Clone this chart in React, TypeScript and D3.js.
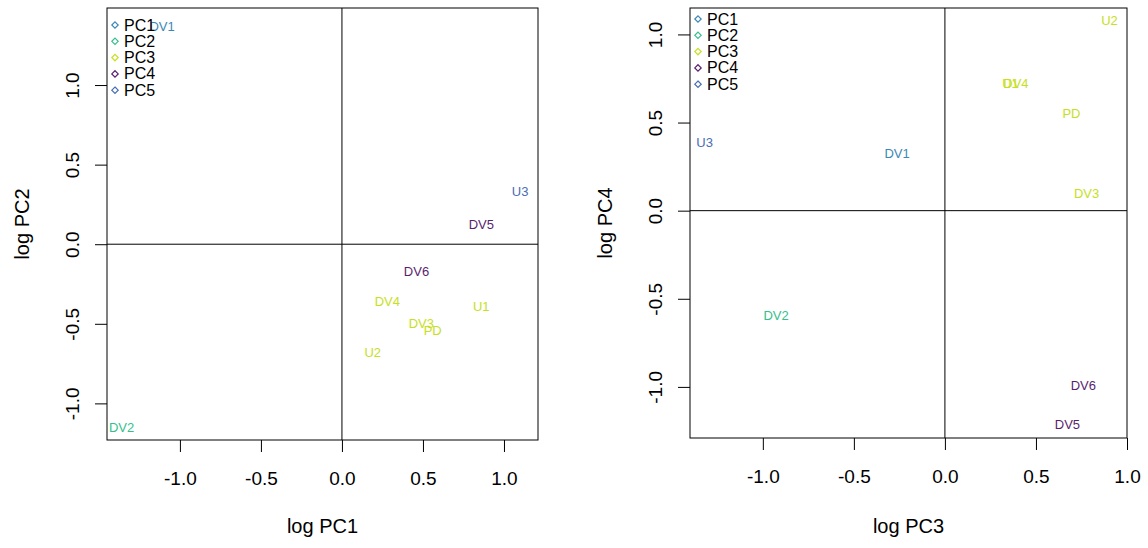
import { useEffect, useRef } from 'react';
import * as d3 from 'd3';

// sample labels and their group (legend key)
const sampleNames = ['DV1', 'DV2', 'DV3', 'DV4', 'DV5', 'DV6', 'PD', 'U1', 'U2', 'U3'];
const sampleGroups = ['PC1', 'PC2', 'PC3', 'PC3', 'PC4', 'PC4', 'PC3', 'PC3', 'PC3', 'PC5'];

// log scores
const logPC1 = [-1.11, -1.36, 0.49, 0.28, 0.86, 0.46, 0.56, 0.86, 0.19, 1.1];
const logPC2 = [1.365, -1.15, -0.5, -0.36, 0.126, -0.17, -0.54, -0.394, -0.68, 0.333];
const logPC3 = [-0.263, -0.927, 0.778, 0.39, 0.673, 0.76, 0.695, 0.36, 0.904, -1.32];
const logPC4 = [0.323, -0.595, 0.096, 0.72, -1.216, -0.99, 0.55, 0.72, 1.08, 0.385];

const legendKeys = ['PC1', 'PC2', 'PC3', 'PC4', 'PC5'];
const legendColors = ['#3b88b5', '#35bf8c', '#c6e01e', '#5a1f6e', '#4a6db3'];
const tickValues = [-1.0, -0.5, 0.0, 0.5, 1.0];

const font = 'Liberation Sans, Arial, sans-serif';
const fmt = (d: number) => d.toFixed(1);

type Panel = {
  xs: number[];
  ys: number[];
  xLabel: string;
  yLabel: string;
  xDomain: [number, number];
  yDomain: [number, number];
  left: number;
  right: number;
  top: number;
  bottom: number;
  legendTop: number;
};

function App() {
  const ref = useRef(null);
  const svgWidth = 1148;
  const svgHeight = 548;

  useEffect(() => {
    const svg = d3.select(ref.current);
    svg.selectAll('*').remove();

    const color = d3.scaleOrdinal<string, string>().domain(legendKeys).range(legendColors);

    const panels: Panel[] = [
      {
        xs: logPC1, ys: logPC2, xLabel: 'log PC1', yLabel: 'log PC2',
        xDomain: [-1.45, 1.21], yDomain: [-1.23, 1.484],
        left: 107, right: 538, top: 8, bottom: 440, legendTop: 25,
      },
      {
        xs: logPC3, ys: logPC4, xLabel: 'log PC3', yLabel: 'log PC4',
        xDomain: [-1.4, 1.0], yDomain: [-1.29, 1.15],
        left: 690, right: 1127, top: 8, bottom: 438, legendTop: 19,
      },
    ];

    panels.forEach((p) => {
      const x = d3.scaleLinear().domain(p.xDomain).range([p.left, p.right]);
      const y = d3.scaleLinear().domain(p.yDomain).range([p.bottom, p.top]);
      const g = svg.append('g').attr('font-family', font);

      // x axis
      const xAxis = g
        .append('g')
        .attr('transform', `translate(0, ${p.bottom})`)
        .call(d3.axisBottom(x).tickValues(tickValues).tickSize(12).tickSizeOuter(0).tickPadding(20).tickFormat((d) => fmt(d as number)));
      xAxis.select('.domain').remove();
      xAxis.selectAll('line').attr('stroke', '#000');
      xAxis.selectAll('text').attr('font-size', 19).attr('fill', '#000').attr('font-family', font);

      // y axis
      const yAxis = g
        .append('g')
        .attr('transform', `translate(${p.left}, 0)`)
        .call(d3.axisLeft(y).tickValues(tickValues).tickSize(12).tickSizeOuter(0).tickFormat((d) => fmt(d as number)));
      yAxis.select('.domain').remove();
      yAxis.selectAll('line').attr('stroke', '#000');
      yAxis
        .selectAll('text')
        .attr('font-size', 19)
        .attr('fill', '#000')
        .attr('font-family', font)
        .attr('text-anchor', 'middle')
        .attr('x', null)
        .attr('dy', null)
        .attr('dominant-baseline', 'central')
        .attr('transform', 'translate(-35, 0) rotate(-90)');

      // axis titles
      g.append('text')
        .attr('x', (p.left + p.right) / 2)
        .attr('y', 533)
        .attr('text-anchor', 'middle')
        .attr('font-size', 20)
        .text(p.xLabel);
      g.append('text')
        .attr('transform', `translate(${p.left - 85}, ${(p.top + p.bottom) / 2}) rotate(-90)`)
        .attr('text-anchor', 'middle')
        .attr('dominant-baseline', 'central')
        .attr('font-size', 20)
        .text(p.yLabel);

      // reference lines at zero
      g.append('line')
        .attr('x1', x(0)).attr('x2', x(0))
        .attr('y1', p.top).attr('y2', p.bottom)
        .attr('stroke', '#000');
      g.append('line')
        .attr('x1', p.left).attr('x2', p.right)
        .attr('y1', y(0)).attr('y2', y(0))
        .attr('stroke', '#000');

      // labels at points
      g.append('g')
        .selectAll('text')
        .data(sampleNames)
        .join('text')
        .attr('x', (_, i) => x(p.xs[i]))
        .attr('y', (_, i) => y(p.ys[i]))
        .attr('text-anchor', 'middle')
        .attr('dominant-baseline', 'central')
        .attr('font-size', 13)
        .attr('fill', (_, i) => color(sampleGroups[i]))
        .text((d) => d);

      // legend
      const legend = g.append('g').attr('transform', `translate(${p.left + 8}, ${p.legendTop})`);
      const rows = legend
        .selectAll('g')
        .data(legendKeys)
        .join('g')
        .attr('transform', (_, i) => `translate(0, ${i * 16.3})`);
      rows
        .append('path')
        .attr('d', d3.symbol(d3.symbolDiamond2, 26))
        .attr('fill', 'none')
        .attr('stroke', (d) => color(d))
        .attr('stroke-width', 1.2);
      rows
        .append('text')
        .attr('x', 9)
        .attr('dominant-baseline', 'central')
        .attr('font-size', 16)
        .text((d) => d);

      // box
      g.append('rect')
        .attr('x', p.left)
        .attr('y', p.top)
        .attr('width', p.right - p.left)
        .attr('height', p.bottom - p.top)
        .attr('fill', 'none')
        .attr('stroke', '#000');
    });
  }, []);

  return (
    <svg
      ref={ref}
      width={svgWidth}
      height={svgHeight}
      style={{ position: 'absolute', left: 0, top: 0, background: '#fff' }}
    ></svg>
  );
}

export default App;
